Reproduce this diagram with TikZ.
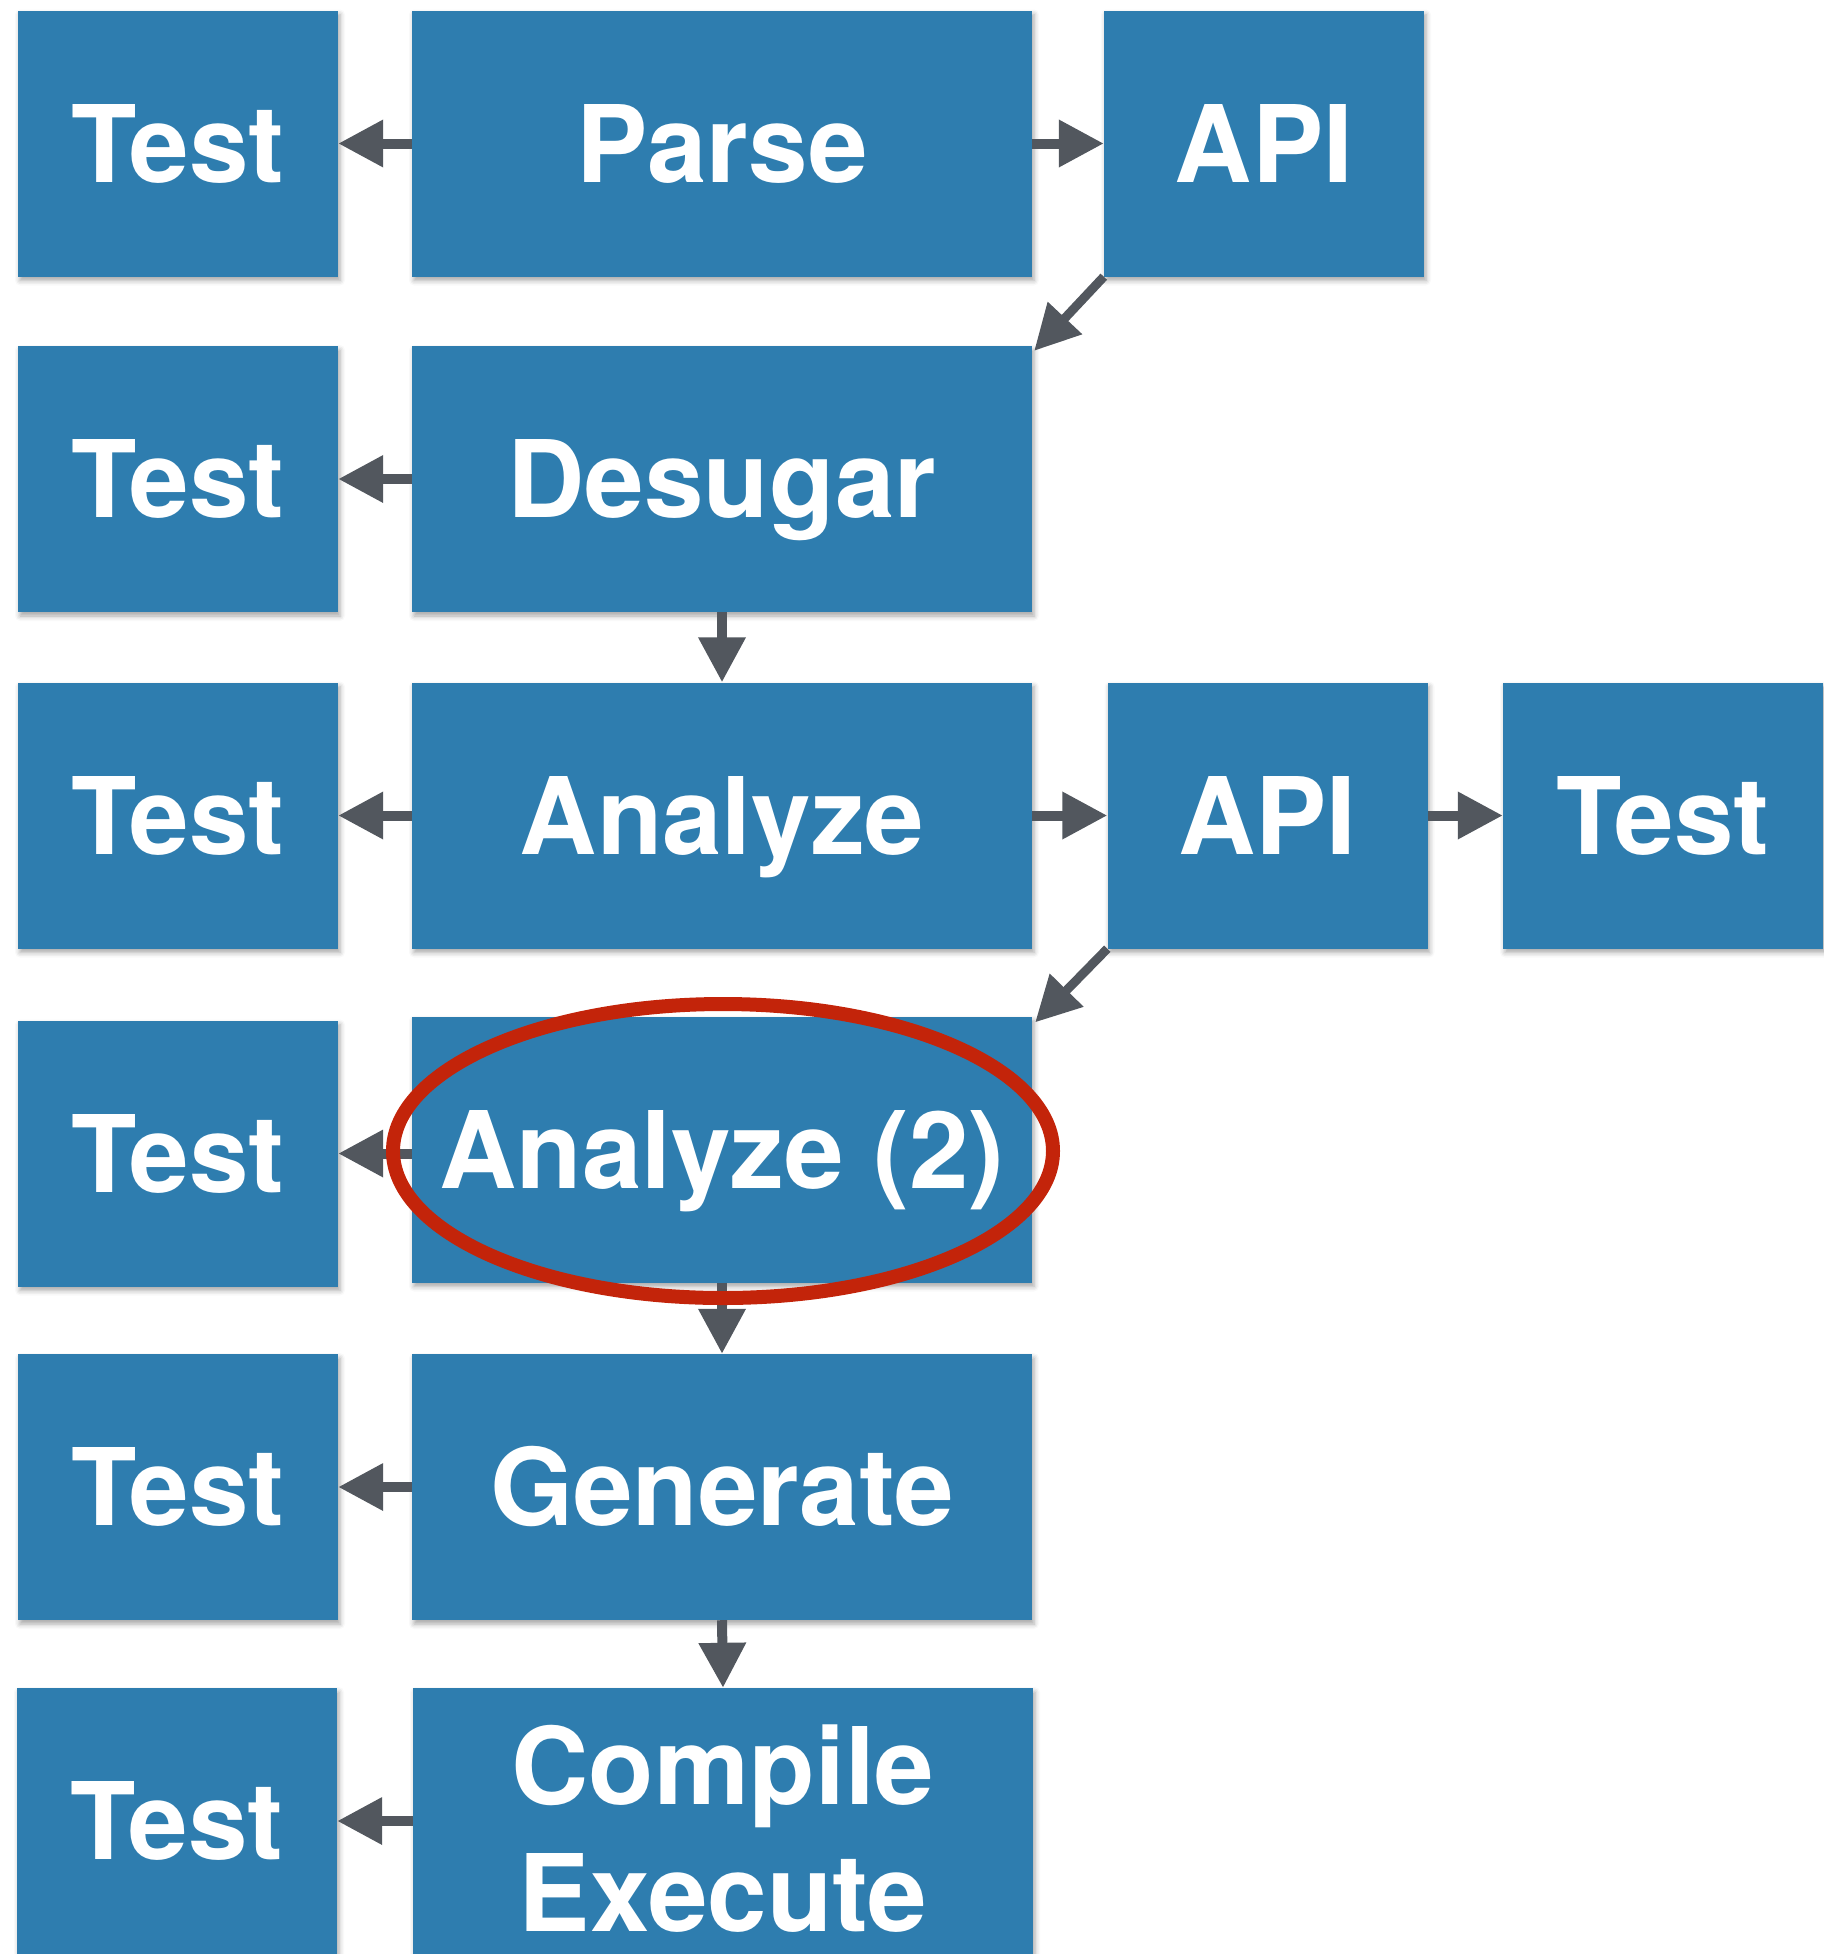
\documentclass[tikz,border=0pt]{standalone}
\usepackage{fontspec}
\newfontfamily\boxfont{TeX Gyre Heros}
\usetikzlibrary{arrows.meta,shadows.blur}
\definecolor{boxblue}{RGB}{46,125,175}
\definecolor{arrowgray}{RGB}{82,87,94}
\definecolor{ringred}{RGB}{195,36,10}
\tikzset{
  blk/.style={fill=boxblue, inner sep=0pt, minimum height=266pt, text=white,
    font=\boxfont\bfseries\fontsize{107pt}{127pt}\selectfont,
    text height=77pt, text depth=0pt,
    blur shadow={shadow xshift=2pt, shadow yshift=-4pt, shadow blur radius=5pt, shadow opacity=35}},
  narrowbox/.style={blk, minimum width=320pt},
  widebox/.style={blk, minimum width=620pt},
  flow/.style={draw=arrowgray, line width=10pt, -{Triangle[length=45pt,width=45pt]}},
  slant/.style={flow, line width=9pt},
  cetext/.style={text=white, inner sep=0pt, align=center,
    font=\boxfont\bfseries\fontsize{107pt}{127pt}\selectfont},
  ring/.style={draw=ringred, line width=14pt}
}
\begin{document}
\begin{tikzpicture}[x=1pt,y=-1pt]
\useasboundingbox (0,0) rectangle (1823,1954);
% row 1
\node[narrowbox] (t1) at (178,143.5) {Test};
\node[widebox] (parse) at (722,143.5) {Parse};
\node[narrowbox] (api1) at (1264,143.5) {API};
% row 2
\node[narrowbox] (t2) at (178,479) {Test};
\node[widebox] (desugar) at (722,479) {Desugar};
% row 3
\node[narrowbox] (t3) at (178,815.5) {Test};
\node[widebox] (analyze) at (722,815.5) {Analyze};
\node[narrowbox] (api3) at (1267.5,815.5) {API};
\node[narrowbox] (t3r) at (1663,815.5) {Test};
% row 4
\node[narrowbox] (t4) at (178,1153.5) {Test};
\node[widebox] (an2) at (722,1149.5) {Analyze (2)};
% row 5
\node[narrowbox] (t5) at (178,1487) {Test};
\node[widebox] (gen) at (722,1487) {Generate};
% row 6
\node[narrowbox] (t6) at (177,1821) {Test};
\node[widebox] (ce) at (723,1821) {};
\node[cetext] (cetxt) at ([yshift=-8pt]ce.center) {Compile\\Execute};
% connectors
\draw[flow] (parse.west) -- (t1.east);
\draw[flow] (parse.east) -- (api1.west);
\draw[slant] (api1.south west) -- ([xshift=2pt,yshift=-5pt]desugar.north east);
\draw[flow] (desugar.west) -- (t2.east);
\draw[flow] (desugar.south) -- (analyze.north);
\draw[flow] (analyze.west) -- (t3.east);
\draw[flow] (analyze.east) -- (api3.west);
\draw[flow] (api3.east) -- (t3r.west);
\draw[slant] (api3.south west) -- ([xshift=3pt,yshift=-6pt]an2.north east);
\draw[flow] (an2.west |- t4.east) -- (t4.east);
\draw[flow] (an2.south) -- (gen.north);
\draw[flow] (gen.west) -- (t5.east);
\draw[flow] (gen.south) -- (ce.north);
\draw[flow] (ce.west |- t6.east) -- (t6.east);
% highlight ring
\draw[ring] ([xshift=1pt,yshift=-1.5pt]an2.center) ellipse [x radius=330, y radius=147];
\end{tikzpicture}
\end{document}
